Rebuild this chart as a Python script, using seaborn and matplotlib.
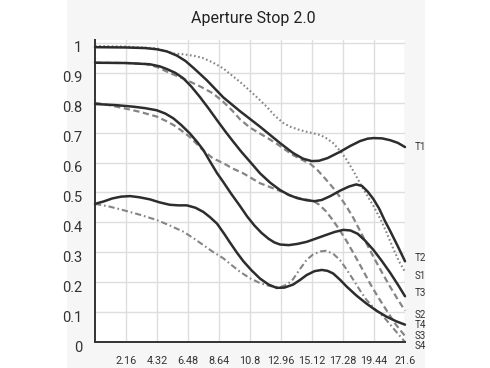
import numpy as np
import pandas as pd
import matplotlib
matplotlib.use("Agg")
import matplotlib.pyplot as plt
import matplotlib.transforms as mtransforms
import seaborn as sns
from matplotlib.patches import Rectangle

title = "Aperture Stop 2.0"
x_ticks = [2.16, 4.32, 6.48, 8.64, 10.8, 12.96, 15.12, 17.28, 19.44, 21.6]
x_tick_labels = ["2.16", "4.32", "6.48", "8.64", "10.8", "12.96", "15.12", "17.28", "19.44", "21.6"]
y_ticks = [0, 0.1, 0.2, 0.3, 0.4, 0.5, 0.6, 0.7, 0.8, 0.9, 1.0]
y_tick_labels = ["0", "0.1", "0.2", "0.3", "0.4", "0.5", "0.6", "0.7", "0.8", "0.9", "1"]

t1_x = [0, 2.16, 3.5, 4.3, 5.0, 5.7, 6.3, 6.9, 7.78, 8.94, 10.1, 11.5, 12.9, 13.8, 14.5, 15.1, 15.6, 16.2, 17.07, 17.8, 18.47, 19.0, 19.4, 20.0, 20.56, 21.1, 21.6]
t1_y = [0.986, 0.985, 0.983, 0.979, 0.972, 0.958, 0.94, 0.915, 0.876, 0.818, 0.772, 0.72, 0.665, 0.632, 0.613, 0.605, 0.606, 0.615, 0.636, 0.656, 0.672, 0.68, 0.682, 0.681, 0.675, 0.666, 0.652]

s1_x = [0, 2.16, 4.3, 5.0, 5.5, 6.2, 6.9, 7.5, 8.2, 8.94, 9.5, 10.1, 10.8, 11.4, 11.96, 12.5, 13.1, 13.6, 14.2, 14.75, 15.3, 15.7, 16.1, 16.6, 17.1, 17.54, 18.0, 18.47, 18.9, 19.4, 19.9, 20.3, 20.8, 21.2, 21.6]
s1_y = [0.99, 0.988, 0.982, 0.972, 0.965, 0.962, 0.957, 0.95, 0.935, 0.915, 0.893, 0.87, 0.84, 0.813, 0.787, 0.758, 0.733, 0.72, 0.71, 0.703, 0.697, 0.692, 0.682, 0.665, 0.638, 0.609, 0.572, 0.531, 0.495, 0.455, 0.41, 0.368, 0.31, 0.268, 0.235]

t2_x = [0, 2.16, 3.8, 4.5, 5.0, 5.6, 6.15, 6.7, 7.3, 7.9, 8.5, 9.1, 9.6, 10.2, 10.8, 11.5, 12.2, 12.9, 13.5, 14.1, 14.75, 15.3, 15.8, 16.4, 17.07, 17.7, 18.2, 18.6, 19.0, 19.4, 19.8, 20.2, 20.56, 21.1, 21.6]
t2_y = [0.934, 0.933, 0.929, 0.922, 0.913, 0.9, 0.882, 0.855, 0.82, 0.782, 0.742, 0.703, 0.672, 0.636, 0.603, 0.564, 0.533, 0.508, 0.492, 0.481, 0.474, 0.471, 0.475, 0.488, 0.506, 0.52, 0.527, 0.522, 0.503, 0.478, 0.446, 0.405, 0.372, 0.32, 0.27]

s2_x = [0, 2.16, 3.5, 4.3, 5.2, 5.9, 6.6, 7.4, 8.2, 8.9, 9.6, 10.1, 10.8, 11.5, 12.1, 12.66, 13.2, 13.8, 14.4, 15.0, 15.5, 16.1, 16.6, 17.07, 17.5, 18.0, 18.7, 19.4, 20.0, 20.56, 21.1, 21.6]
s2_y = [0.934, 0.933, 0.93, 0.92, 0.9, 0.886, 0.871, 0.853, 0.832, 0.805, 0.772, 0.745, 0.717, 0.697, 0.68, 0.663, 0.645, 0.625, 0.61, 0.596, 0.575, 0.543, 0.515, 0.485, 0.455, 0.415, 0.35, 0.285, 0.232, 0.185, 0.142, 0.105]

t3_x = [0, 1.5, 2.67, 3.5, 4.3, 4.9, 5.46, 6.0, 6.6, 7.1, 7.55, 8.0, 8.5, 8.94, 9.5, 10.1, 10.6, 11.1, 11.6, 12.1, 12.5, 12.9, 13.5, 14.1, 14.75, 15.4, 16.1, 16.7, 17.3, 17.8, 18.3, 18.8, 19.4, 20.0, 20.56, 21.1, 21.6]
t3_y = [0.796, 0.792, 0.787, 0.782, 0.775, 0.764, 0.748, 0.726, 0.698, 0.67, 0.642, 0.605, 0.565, 0.535, 0.495, 0.455, 0.42, 0.39, 0.365, 0.345, 0.333, 0.326, 0.324, 0.328, 0.335, 0.346, 0.358, 0.368, 0.375, 0.373, 0.362, 0.34, 0.308, 0.27, 0.232, 0.192, 0.153]

s3_x = [0, 1.0, 2.0, 3.1, 4.3, 5.0, 5.46, 6.0, 6.6, 7.1, 7.55, 8.2, 8.94, 9.6, 10.3, 10.9, 11.5, 12.2, 12.9, 13.6, 14.3, 14.8, 15.2, 15.6, 16.1, 16.5, 17.0, 17.5, 18.0, 18.6, 19.16, 19.7, 20.3, 20.9, 21.6]
s3_y = [0.80, 0.792, 0.782, 0.77, 0.754, 0.738, 0.726, 0.708, 0.686, 0.662, 0.64, 0.615, 0.598, 0.58, 0.565, 0.548, 0.531, 0.518, 0.505, 0.49, 0.48, 0.476, 0.472, 0.46, 0.437, 0.412, 0.378, 0.34, 0.298, 0.246, 0.196, 0.152, 0.107, 0.062, 0.02]

t4_x = [0, 0.6, 1.2, 1.8, 2.44, 3.1, 3.83, 4.5, 5.2, 5.8, 6.4, 7.0, 7.55, 8.0, 8.5, 9.0, 9.4, 9.9, 10.34, 10.9, 11.5, 12.1, 12.66, 13.2, 13.8, 14.3, 14.75, 15.3, 15.8, 16.2, 16.6, 17.1, 17.5, 18.2, 18.9, 19.6, 20.3, 21.0, 21.6]
t4_y = [0.462, 0.47, 0.48, 0.486, 0.488, 0.484, 0.477, 0.467, 0.459, 0.457, 0.457, 0.449, 0.435, 0.418, 0.396, 0.362, 0.333, 0.298, 0.27, 0.24, 0.212, 0.192, 0.181, 0.182, 0.192, 0.208, 0.224, 0.237, 0.241, 0.238, 0.229, 0.207, 0.187, 0.156, 0.129, 0.105, 0.085, 0.069, 0.058]

s4_x = [0, 1.0, 1.97, 3.1, 4.3, 5.2, 6.15, 6.9, 7.55, 8.2, 8.94, 9.5, 10.1, 10.8, 11.5, 12.2, 12.9, 13.4, 13.8, 14.3, 14.75, 15.2, 15.7, 16.1, 16.6, 17.07, 17.5, 18.0, 18.5, 18.9, 19.5, 20.1, 20.8, 21.6]
s4_y = [0.462, 0.453, 0.441, 0.426, 0.408, 0.39, 0.369, 0.346, 0.324, 0.302, 0.28, 0.258, 0.235, 0.213, 0.197, 0.187, 0.183, 0.193, 0.21, 0.245, 0.275, 0.293, 0.303, 0.305, 0.295, 0.274, 0.245, 0.208, 0.17, 0.142, 0.11, 0.085, 0.045, 0.0]

series_names = ["T1", "S1", "T2", "S2", "T3", "S3", "T4", "S4"]
series_x = [t1_x, s1_x, t2_x, s2_x, t3_x, s3_x, t4_x, s4_x]
series_y = [t1_y, s1_y, t2_y, s2_y, t3_y, s3_y, t4_y, s4_y]
label_order = ["T1", "T2", "S1", "T3", "S2", "T4", "S3", "S4"]
label_y = [0.652, 0.281, 0.221, 0.164, 0.09, 0.057, 0.02, -0.012]

dark = "#2d2d2d"
gray = "#858585"
styles = {
    "T1": dict(color=dark, lw=1.8, ls="-"),
    "T2": dict(color=dark, lw=1.8, ls="-"),
    "T3": dict(color=dark, lw=1.8, ls="-"),
    "T4": dict(color=dark, lw=1.8, ls="-"),
    "S1": dict(color=gray, lw=1.5, ls=(0, (0.8, 1.2))),
    "S2": dict(color=gray, lw=1.6, ls=(0, (2.8, 1.6))),
    "S3": dict(color=gray, lw=1.6, ls=(0, (2.8, 1.6))),
    "S4": dict(color=gray, lw=1.5, ls=(0, (3.0, 1.4, 0.8, 1.4))),
}

sns.set_theme(style="white")
plt.rcParams["font.family"] = ["Roboto", "DejaVu Sans"]
narrow = ["Roboto", "DejaVu Sans"]

fig = plt.figure(figsize=(4.9, 3.68), dpi=100, facecolor="white")
fig.patches.append(Rectangle((67 / 490, 0), (425 - 67) / 490, 1, transform=fig.transFigure,
                             facecolor="#f6f6f6", edgecolor="none", zorder=-10))
ax = fig.add_axes([95 / 490, 26 / 368, 310 / 490, 302 / 368])
ax.set_facecolor("white")

frames = []
for name, xs, ys in zip(series_names, series_x, series_y):
    frames.append(pd.DataFrame({"x": xs, "y": ys, "series": name}))
df = pd.concat(frames, ignore_index=True)

for name in series_names:
    st = styles[name]
    sub = df[df["series"] == name]
    sns.lineplot(data=sub, x="x", y="y", ax=ax, color=st["color"], linewidth=st["lw"],
                 linestyle=st["ls"], sort=False, estimator=None,
                 zorder=3 if name.startswith("T") else 2, clip_on=False)
for line in ax.get_lines():
    line.set_solid_joinstyle("round")
    line.set_dash_joinstyle("round")

for name, ly in zip(label_order, label_y):
    ax.text(22.25, ly, name, fontsize=7, color="#333333", va="center", ha="left", family=narrow)

ax.set_xlim(0, 21.6)
ax.set_ylim(0, 1.01)
ax.set_xticks(x_ticks)
ax.set_xticklabels(x_tick_labels, family=narrow)
ax.set_yticks(y_ticks)
ax.set_yticklabels(y_tick_labels, family=narrow)
ax.tick_params(axis="both", length=0, colors="#333333")
ax.tick_params(axis="x", pad=10, labelsize=7.8)
ax.tick_params(axis="y", pad=9, labelsize=10.5)
offset = mtransforms.ScaledTranslation(0, -4 / 100, fig.dpi_scale_trans)
for lab in ax.get_yticklabels():
    lab.set_transform(lab.get_transform() + offset)
ax.grid(True, color="#dedede", linewidth=1)
ax.set_xlabel("")
ax.set_ylabel("")
for side in ["top", "right"]:
    ax.spines[side].set_visible(False)
for side in ["left", "bottom"]:
    ax.spines[side].set_color("#333333")
    ax.spines[side].set_linewidth(1.4)

fig.text(253 / 490, 1 - 18 / 368, title, ha="center", va="center", fontsize=11.5, color="#222222")

fig.savefig("out.png", dpi=100, facecolor=fig.get_facecolor())
